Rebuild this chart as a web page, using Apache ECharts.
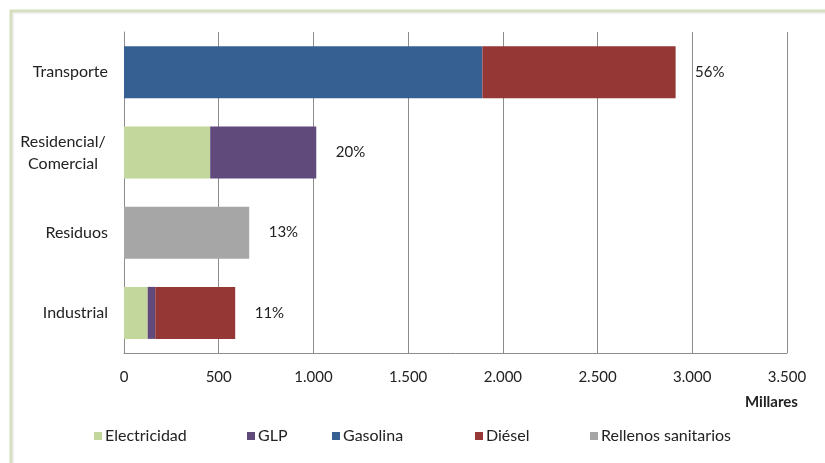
<!DOCTYPE html>
<html>
<head>
<meta charset="utf-8">
<script src="https://cdn.jsdelivr.net/npm/echarts@6/dist/echarts.min.js"></script>
<style>html,body{margin:0;padding:0;background:#fff}#c{width:825px;height:463px}</style>
</head>
<body>
<div id="c"></div>
<script>
var categories = ['Transporte', 'Residencial/\nComercial', 'Residuos', 'Industrial'];
var electricidad = [null, 455, null, 125];
var glp = [null, 560, null, 40];
var gasolina = [1892, null, null, null];
var diesel = [1020, null, null, 422];
var rellenos = [null, null, 661, null];
var percentLabels = ['56%', '20%', '13%', '11%'];
var xTicks = [0, 500, 1000, 1500, 2000, 2500, 3000, 3500];

var seriesNames = ['Electricidad', 'GLP', 'Gasolina', 'Diésel', 'Rellenos sanitarios'];
var seriesData = [electricidad, glp, gasolina, diesel, rellenos];
var colors = ['#c3d69b', '#604a7b', '#376092', '#953735', '#a6a6a6'];

var totals = categories.map(function (c, i) {
  return seriesData.reduce(function (s, arr) { return s + (arr[i] || 0); }, 0);
});

var FONT = 'Lato';
var chart = echarts.init(document.getElementById('c'));

var series = seriesNames.map(function (n, k) {
  return {
    name: n, type: 'bar', stack: 'total', barWidth: 52,
    itemStyle: { color: colors[k] },
    data: seriesData[k]
  };
});
series.push({
  name: 'pct', type: 'scatter', symbol: 'circle', symbolSize: 1,
  itemStyle: { color: 'rgba(0,0,0,0)', opacity: 1 },
  label: {
    show: true, position: 'right', distance: 19,
    fontFamily: FONT, fontSize: 15, color: '#222',
    formatter: function (p) { return percentLabels[p.dataIndex]; }
  },
  data: totals.map(function (t, i) { return [t, i]; }),
  silent: true
});

var legendLefts = [89, 242, 327, 470, 585];
var legends = seriesNames.map(function (n, k) {
  return {
    data: [n], left: legendLefts[k], top: 423, icon: 'rect',
    itemWidth: 8, itemHeight: 8, itemGap: 0,
    textStyle: { fontFamily: FONT, fontSize: 16, color: '#222', padding: [0, 0, 0, -2] },
    selectedMode: false
  };
});

chart.setOption({
  animation: false,
  backgroundColor: '#fff',
  grid: { left: 124, right: 38, top: 32, bottom: 110 },
  legend: legends,
  xAxis: {
    type: 'value', min: 0, max: 3500, interval: 500,
    axisLine: { show: true, lineStyle: { color: '#8c8c8c', width: 1 } },
    axisTick: { show: false },
    splitLine: { show: true, lineStyle: { color: '#8c8c8c', width: 1 } },
    axisLabel: {
      margin: 17, fontFamily: FONT, fontSize: 15, color: '#222',
      formatter: function (v) {
        var i = xTicks.indexOf(v);
        return String(xTicks[i]).replace(/\B(?=(\d{3})+(?!\d))/g, '.');
      }
    }
  },
  yAxis: {
    type: 'category', data: categories, inverse: true,
    axisLine: { show: true, lineStyle: { color: '#8c8c8c', width: 1 } },
    axisTick: { show: false },
    axisLabel: {
      margin: 16, fontFamily: FONT, fontSize: 16, color: '#222', lineHeight: 22,
      formatter: function (v) {
        if (v.indexOf('\n') >= 0) {
          return v.split('\n').map(function (s) { return '{m|' + s + '}'; }).join('\n');
        }
        return v;
      },
      rich: { m: { width: 90, align: 'center', fontFamily: FONT, fontSize: 16, color: '#222', lineHeight: 22 } }
    }
  },
  graphic: [
    { type: 'rect', shape: { x: 11, y: 11, width: 830, height: 470 },
      style: { fill: 'none', stroke: '#d3dfbd', lineWidth: 3 }, z: -1 },
    { type: 'rect', shape: { x: 13, y: 13, width: 830, height: 470 },
      style: { fill: 'none', stroke: '#e2e2e2', lineWidth: 1 }, z: -1 },
    { type: 'text', left: 745, top: 395,
      style: { text: 'Millares', fontFamily: FONT, fontSize: 15, fontWeight: 'bold', fill: '#222' } }
  ],
  series: series
});
</script>
</body>
</html>
